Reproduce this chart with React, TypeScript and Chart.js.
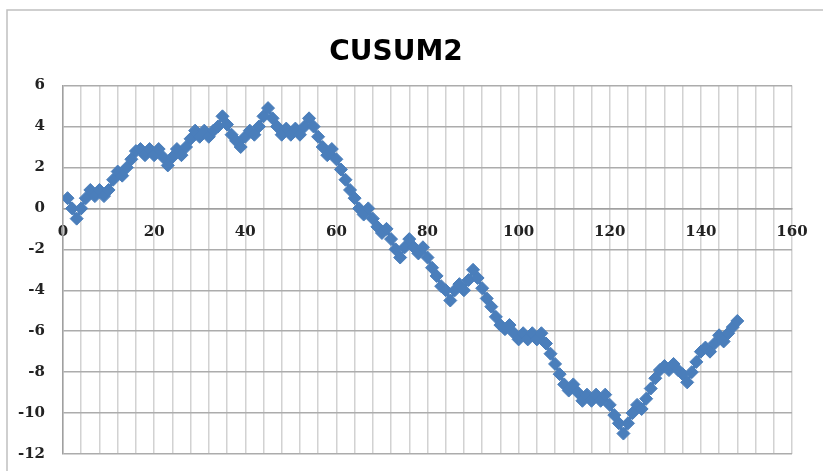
import React, { useEffect, useRef } from "react";
import { Chart, registerables } from "chart.js";

Chart.register(...registerables);

const TITLE = "CUSUM2";
const X_MIN = 0;
const X_MAX = 160;
const X_GRID_STEP = 4;
const X_LABEL_STEP = 20;
const Y_MIN = -12;
const Y_MAX = 6;
const Y_STEP = 2;

// CUSUM values, observation 1..148
const cusumValues: number[] = [
  0.5, 0.0, -0.5, 0.0, 0.5, 0.9, 0.6, 0.9, 0.6, 0.9,
  1.4, 1.8, 1.6, 2.0, 2.4, 2.8, 2.9, 2.6, 2.9, 2.6,
  2.9, 2.5, 2.1, 2.5, 2.9, 2.6, 3.0, 3.4, 3.8, 3.5,
  3.8, 3.5, 3.8, 4.0, 4.5, 4.1, 3.6, 3.3, 3.0, 3.5,
  3.8, 3.6, 4.0, 4.5, 4.9, 4.4, 4.0, 3.6, 3.9, 3.6,
  3.9, 3.6, 4.0, 4.4, 4.0, 3.5, 3.0, 2.6, 2.9, 2.4,
  1.9, 1.4, 0.9, 0.5, 0.0, -0.3, 0.0, -0.5, -0.9, -1.2,
  -1.0, -1.5, -2.0, -2.4, -1.9, -1.5, -1.9, -2.2, -1.9, -2.4,
  -2.9, -3.3, -3.8, -4.0, -4.5, -4.0, -3.7, -4.0, -3.5, -3.0,
  -3.4, -3.9, -4.4, -4.8, -5.3, -5.7, -5.9, -5.7, -6.1, -6.4,
  -6.1, -6.4, -6.1, -6.4, -6.1, -6.6, -7.1, -7.6, -8.1, -8.6,
  -8.9, -8.6, -9.0, -9.4, -9.1, -9.4, -9.1, -9.4, -9.1, -9.6,
  -10.1, -10.5, -11.0, -10.5, -10.0, -9.6, -9.8, -9.3, -8.8, -8.3,
  -7.9, -7.7, -7.9, -7.6, -7.9, -8.1, -8.5, -8.0, -7.5, -7.0,
  -6.8, -7.0, -6.6, -6.2, -6.5, -6.1, -5.8, -5.5,
];

const MARKER_COLOR = "#4a7ebb";

const framePlugin = {
  id: "frame",
  beforeDraw(chart: any) {
    const ctx = chart.ctx;
    ctx.save();
    ctx.fillStyle = "#ffffff";
    ctx.fillRect(0, 0, chart.width, chart.height);
    ctx.strokeStyle = "#c0c0c0";
    ctx.lineWidth = 1.5;
    ctx.beginPath();
    ctx.moveTo(7, chart.height);
    ctx.lineTo(7, 10);
    ctx.lineTo(chart.width, 10);
    ctx.stroke();
    ctx.restore();
  },
};

export default function App() {
  const canvasRef = useRef<HTMLCanvasElement | null>(null);

  useEffect(() => {
    document.body.style.margin = "0";
    const canvas = canvasRef.current;
    if (!canvas) return;
    const points = cusumValues.map((v, i) => ({ x: i + 1, y: v }));
    const chart = new Chart(canvas, {
      type: "scatter",
      data: {
        datasets: [
          {
            label: TITLE,
            data: points,
            showLine: true,
            borderColor: MARKER_COLOR,
            borderWidth: 3,
            pointStyle: "rectRot",
            pointRadius: 6.5,
            pointBackgroundColor: MARKER_COLOR,
            pointBorderColor: MARKER_COLOR,
            pointBorderWidth: 1,
          },
        ],
      },
      options: {
        responsive: false,
        animation: false,
        devicePixelRatio: 1,
        layout: { padding: { left: 0, right: 31, top: 0, bottom: 17 } },
        plugins: {
          legend: { display: false },
          tooltip: { enabled: false },
          title: {
            display: true,
            text: TITLE,
            color: "#000000",
            font: { family: "DejaVu Sans", size: 28, weight: "bold" },
            padding: { top: 36, bottom: 16 },
          },
        },
        scales: {
          x: {
            type: "linear",
            position: { y: 0 },
            min: X_MIN,
            max: X_MAX,
            afterFit: (scale: any) => {
              scale.height = 0;
            },
            grid: { color: "#d2d2d2", lineWidth: 1.5, drawTicks: false },
            border: { color: "#a0a0a0", width: 1.5 },
            ticks: {
              stepSize: X_GRID_STEP,
              autoSkip: false,
              maxRotation: 0,
              padding: 15,
              color: "#222222",
              font: { family: "DejaVu Serif", size: 15, weight: "bold" },
              callback: (v: any) => (Number(v) % X_LABEL_STEP === 0 ? String(v) : ""),
            },
          },
          y: {
            type: "linear",
            min: Y_MIN,
            max: Y_MAX,
            afterFit: (scale: any) => {
              scale.width = 63;
            },
            grid: {
              color: "#acacac",
              lineWidth: 1.5,
              drawTicks: true,
              tickLength: 18,
              tickColor: "rgba(0,0,0,0)",
            },
            border: { color: "#a0a0a0", width: 1.5 },
            ticks: {
              stepSize: Y_STEP,
              padding: 0,
              color: "#222222",
              font: { family: "DejaVu Serif", size: 15, weight: "bold" },
            },
          },
        },
      },
      plugins: [framePlugin],
    });
    return () => chart.destroy();
  }, []);

  return (
    <div style={{ width: 823, height: 471 }}>
      <canvas ref={canvasRef} width={823} height={471} style={{ display: "block" }} />
    </div>
  );
}
